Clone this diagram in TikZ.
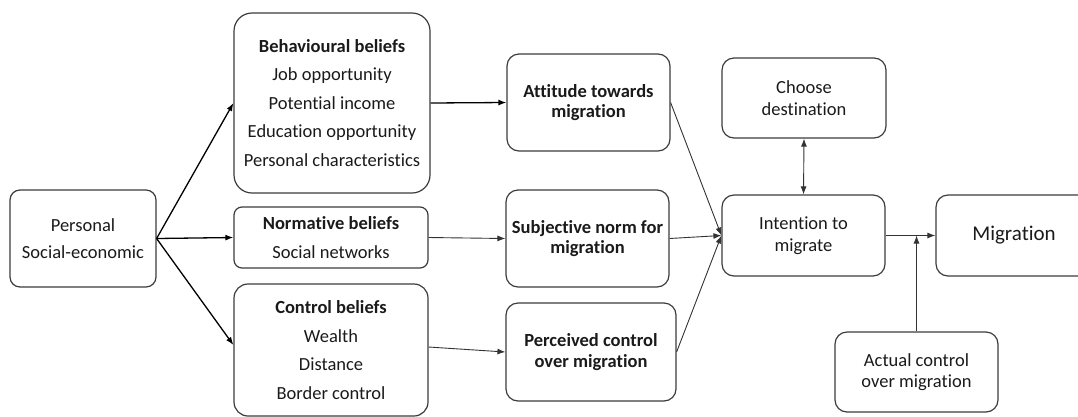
\documentclass[tikz,border=0pt]{standalone}
\usepackage{fontspec}
\setmainfont[Ligatures=NoCommon]{Carlito}
\usetikzlibrary{arrows.meta}
\definecolor{ink}{HTML}{1A1A1A}
\definecolor{frame}{HTML}{3C3C3C}
\definecolor{thin}{HTML}{333333}
\begin{document}
\begin{tikzpicture}[x=1pt,y=-1pt,
  box/.style={draw=frame,line width=1.2pt,rounded corners=12pt,inner sep=0pt,
    align=center,text=ink,font=\fontsize{18.5}{21.5}\selectfont},
  listbox/.style={box,font=\fontsize{18.5}{28.5}\selectfont},
  boldbox/.style={box,font=\bfseries\fontsize{18.5}{20.5}\selectfont},
  bigarrow/.style={draw=black,line width=1.3pt,-{Latex[length=8pt,width=6pt]}},
  thinarrow/.style={draw=thin,line width=0.9pt,-{Latex[length=8pt,width=6pt]}},
  twoway/.style={draw=thin,line width=0.9pt,{Latex[length=8pt,width=6pt]}-{Latex[length=8pt,width=6pt]}}
]
\useasboundingbox (0,0) rectangle (1078,416);

% left column: origin and beliefs
\node[box,rounded corners=10pt,minimum width=146pt,minimum height=97pt] (personal) at (83,238.5)
  {Personal\\[6pt]Social-economic};
\node[listbox,rounded corners=18pt,minimum width=196pt,minimum height=180pt] (behav) at (332,103)
  {\textbf{Behavioural beliefs}\\Job opportunity\\Potential income\\Education opportunity\\Personal characteristics};
\node[listbox,rounded corners=8pt,minimum width=194pt,minimum height=61pt] (norm) at (331,237.5)
  {\textbf{Normative beliefs}\\Social networks};
\node[listbox,rounded corners=14pt,minimum width=194pt,minimum height=132pt] (ctrl) at (331,350)
  {\textbf{Control beliefs}\\Wealth\\Distance\\Border control};

% middle column: determinants of intention
\node[boldbox,minimum width=163pt,minimum height=97pt] (att) at (588.5,102.5)
  {Attitude towards\\migration};
\node[boldbox,minimum width=163pt,minimum height=97pt] (subj) at (587.5,238.5)
  {Subjective norm for\\migration};
\node[boldbox,minimum width=170pt,minimum height=98pt] (perc) at (591,352)
  {Perceived control\\over migration};

% right column: intention and behaviour
\node[box,minimum width=164pt,minimum height=80pt] (choose) at (804,98)
  {Choose\\destination};
\node[box,minimum width=163pt,minimum height=81pt] (intent) at (803.5,235.5)
  {Intention to\\migrate};
\node[box,font=\fontsize{21}{24}\selectfont,minimum width=156pt,minimum height=81pt] (migr) at (1014,235.5)
  {Migration};
\node[box,minimum width=163pt,minimum height=80pt] (actual) at (916.5,372)
  {Actual control\\over migration};

% connectors
\draw[bigarrow] (personal.east) -- (behav.west);
\draw[bigarrow] (personal.east) -- (norm.west);
\draw[bigarrow] (personal.east) -- ([yshift=5pt]ctrl.west);
\draw[bigarrow] (behav.east) -- (att.west);
\draw[thinarrow] (norm.east) -- (subj.west);
\draw[thinarrow] ([yshift=3pt]ctrl.east) -- (perc.west);

\draw[thinarrow] (att.east) -- (intent.west);
\draw[thinarrow] (subj.east) -- (intent.west);
\draw[thinarrow] (perc.east) -- (intent.west);

\draw[twoway] (choose.south) -- (intent.north);
\draw[thinarrow] (intent.east) -- (migr.west);
\coordinate (join) at (actual.north |- intent.east);
\draw[thinarrow] (actual.north) -- (join);
\end{tikzpicture}
\end{document}
